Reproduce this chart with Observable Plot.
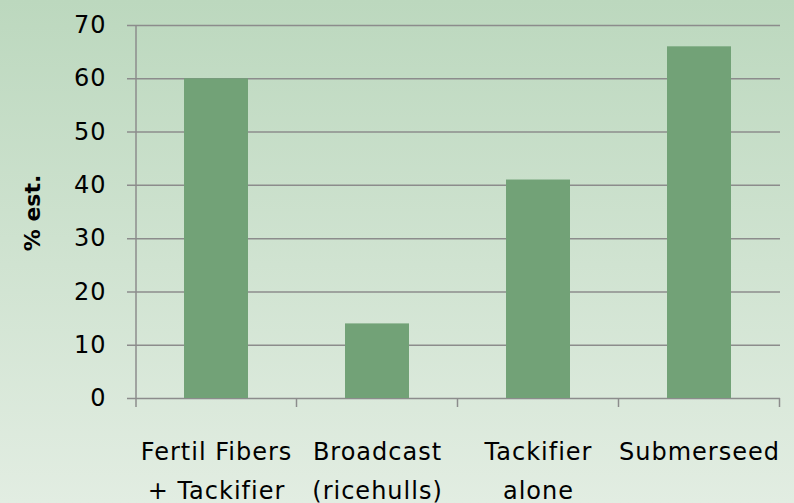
<!DOCTYPE html>
<html>
<head>
<meta charset="utf-8">
<script src="https://cdn.jsdelivr.net/npm/d3@7"></script>
<script src="https://cdn.jsdelivr.net/npm/@observablehq/plot@0.6"></script>
<style>
  html, body { margin: 0; padding: 0; }
  body {
    width: 794px; height: 503px; overflow: hidden;
    background: linear-gradient(to bottom, #bcd8be 0%, #e2ede2 100%);
  }
  #chart svg { display: block; background: transparent; }
  #chart svg g[aria-label="x-axis tick label"] text,
  #chart svg g[aria-label="y-axis tick label"] text { letter-spacing: 1px; }
</style>
</head>
<body>
<div id="chart"></div>
<script>
const categories = ["Fertil Fibers\n+ Tackifier", "Broadcast\n(ricehulls)", "Tackifier\nalone", "Submerseed"];
const values = [60, 14, 41, 66];
const yTicks = [0, 10, 20, 30, 40, 50, 60, 70];
const yLabel = "% est.";

const data = categories.map((c, i) => ({category: c, value: values[i]}));

const fontFamily = "'DejaVu Sans', Verdana, sans-serif";

// y-axis line and tick marks at band boundaries (Excel-style), computed from the scales
function axisLines(index, scales, values, dims) {
  const x = scales.x;
  const y = scales.y;
  const desc = scales.scales && scales.scales.x;
  const bw = (typeof x.bandwidth === "number" ? x.bandwidth : (desc && desc.bandwidth)) || 0;
  const step = x(categories[1]) - x(categories[0]);
  const g = d3.create("svg:g").attr("stroke", "#8c8c8c").attr("stroke-width", 1.5);
  const y0 = y(0);
  g.append("line")
    .attr("x1", dims.marginLeft).attr("x2", dims.marginLeft)
    .attr("y1", y(70)).attr("y2", y0 + 9);
  const xs = categories.map(c => x(c) + bw / 2 - step / 2);
  xs.push(x(categories[categories.length - 1]) + bw / 2 + step / 2);
  for (const px of xs) {
    if (!Number.isFinite(px) || px <= dims.marginLeft + 1) continue;
    g.append("line").attr("x1", px).attr("x2", px).attr("y1", y0).attr("y2", y0 + 9);
  }
  return g.node();
}

const chart = Plot.plot({
  width: 794,
  height: 503,
  marginLeft: 136,
  marginRight: 14,
  marginTop: 25,
  marginBottom: 105,
  style: {background: "transparent", fontFamily, fontSize: "24px", color: "#000"},
  x: {domain: categories, paddingInner: 0.6, paddingOuter: 0.3, label: null},
  y: {domain: [0, 70], label: null},
  marks: [
    Plot.ruleY(yTicks, {y: d => d, stroke: "#8c8c8c", strokeWidth: 1.5, strokeOpacity: 1, insetLeft: -9}),
    Plot.barY(data, {x: "category", y: "value", fill: "#72a277"}),
    axisLines,
    Plot.axisY({ticks: yTicks, tickSize: 0, tickPadding: 30, fontSize: 24, label: null}),
    Plot.axisX({tickSize: 0, tickPadding: 33, fontSize: 24, lineHeight: 1.65, label: null}),
    Plot.text([yLabel], {text: d => d, frameAnchor: "left", textAnchor: "middle", rotate: -90, dx: -104, dy: 1, fontWeight: "bold", fontSize: 22})
  ]
});
document.getElementById("chart").append(chart);
</script>
</body>
</html>
